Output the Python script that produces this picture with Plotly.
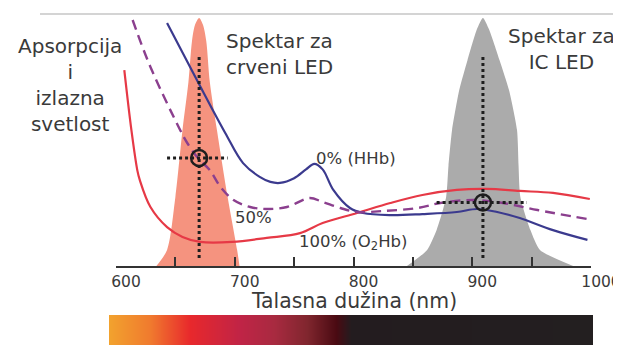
import plotly.graph_objects as go

# ---------------- data ----------------
# 100% saturation (O2Hb) absorption curve
o2hb_wl = [607, 613, 618, 620, 629, 643, 656, 671, 698, 727, 755, 774, 803, 831, 858, 887, 912, 940, 968, 999]
o2hb_val = [78, 54, 38, 34.3, 23.5, 15.5, 11.6, 9.6, 9.6, 11.2, 13.1, 17.1, 21.1, 25.1, 28.3, 30.3, 30.7, 29.9, 29.1, 26.7]

# 0% saturation (HHb) absorption curve
hhb_wl = [643, 669, 692, 707, 721, 730, 738, 750, 760, 767, 774, 783, 797, 808, 831, 858, 887, 904, 921, 940, 968, 997]
hhb_val = [96.8, 73.3, 53, 41, 35.5, 33.5, 33.1, 35.0, 38.5, 40.7, 38.5, 30.3, 23.1, 21.1, 20.3, 20.7, 21.5, 22.7, 21.5, 19.1, 14.3, 10.4]

# 50% saturation curve
half_wl = [614, 629, 654, 660, 669, 679, 688, 699, 713, 727, 744, 763, 774, 789, 803, 825, 854, 873, 901, 926, 955, 997]
half_val = [98, 79.3, 54.2, 49, 43, 38.2, 31.5, 26.3, 23.5, 22.7, 23.5, 27.1, 25.5, 23.1, 21.5, 21.9, 23.1, 25.1, 26.3, 25.1, 22.3, 18.7]

# red LED emission spectrum
red_led_wl = [634, 643, 650, 656, 661, 664, 666.5, 670, 673.3, 676, 679, 685, 694, 702, 704]
red_led_val = [0, 6.4, 27.5, 54.2, 73.3, 89.6, 96, 98.8, 96, 89.6, 73.3, 54.2, 27.5, 6.4, 0]

# infrared LED emission spectrum
ir_led_wl = [845, 862, 870, 878, 880, 883, 889, 896, 904, 909, 914, 923, 931, 937.7, 939, 940.5, 949, 957, 985]
ir_led_val = [0, 6.4, 14.3, 27.5, 40, 54.2, 70, 82, 94.4, 98.8, 94.4, 82, 70, 54.2, 40, 27.5, 14.3, 6.4, 0]

# measuring points (LED centre wavelength, absorption read there)
probe_wl = [670, 909]
probe_val = [43, 25.3]
probe_top = [83.3, 83.3]
probe_bottom = [3, 3]
probe_left = [643, 870]
probe_right = [694, 946]

# x axis ticks
major_ticks = [600, 700, 800, 900, 1000]
major_text = ["600", "700", "800", "900", "1000"]
minor_ticks = [650, 750, 850, 950]

# visible-spectrum bar colour stops
spec_pos = [0, 0.085, 0.167, 0.27, 0.34, 0.41, 0.47, 0.50, 1]
spec_col = ["#f2a22e", "#f07a2e", "#e8282c", "#c02446", "#a82a40", "#80262e", "#4a0a12", "#231c1f", "#231f20"]

FONT = "DejaVu Sans"
TXT = "#3a3a3a"

# the page body has an 8px margin: work in picture pixels and convert
W, H, OFF = 613, 337, 8
def PX(x):
    return (x - OFF) / W
def PY(y):
    return 1 - (y - OFF) / H

fig = go.Figure()

# LED spectra
fig.add_trace(go.Scatter(x=red_led_wl, y=red_led_val, mode="lines", fill="tozeroy",
                         fillcolor="#f5937f", line=dict(width=0, color="#f5937f", shape="spline", smoothing=0.8),
                         hoverinfo="skip", showlegend=False))
fig.add_trace(go.Scatter(x=ir_led_wl, y=ir_led_val, mode="lines", fill="tozeroy",
                         fillcolor="#ababab", line=dict(width=0, color="#ababab", shape="spline", smoothing=0.6),
                         hoverinfo="skip", showlegend=False))

# absorption curves
fig.add_trace(go.Scatter(x=o2hb_wl, y=o2hb_val, mode="lines",
                         line=dict(color="#e63946", width=2.2, shape="spline", smoothing=1),
                         showlegend=False))
fig.add_trace(go.Scatter(x=hhb_wl, y=hhb_val, mode="lines",
                         line=dict(color="#3b3a8e", width=2.2, shape="spline", smoothing=1),
                         showlegend=False))
fig.add_trace(go.Scatter(x=half_wl, y=half_val, mode="lines",
                         line=dict(color="#8b3f8e", width=2.4, dash="10px,6px", shape="spline", smoothing=1),
                         showlegend=False))

# crosshairs
for i in range(len(probe_wl)):
    fig.add_trace(go.Scatter(x=[probe_wl[i], probe_wl[i]], y=[probe_top[i], probe_bottom[i]], mode="lines",
                             line=dict(color="#1e1e1e", width=3, dash="dot"), showlegend=False, hoverinfo="skip"))
    fig.add_trace(go.Scatter(x=[probe_left[i], probe_right[i]], y=[probe_val[i], probe_val[i]], mode="lines",
                             line=dict(color="#1e1e1e", width=3, dash="dot"), showlegend=False, hoverinfo="skip"))
fig.add_trace(go.Scatter(x=probe_wl, y=probe_val, mode="markers",
                         marker=dict(symbol="circle-open", size=16, color="#1e1e1e", line=dict(width=2.5, color="#1e1e1e")),
                         showlegend=False))

# spectrum bar
fig.add_trace(go.Heatmap(x=spec_pos, y=[0], z=[spec_pos], xaxis="x2", yaxis="y2",
                         colorscale=[[p, c] for p, c in zip(spec_pos, spec_col)],
                         zmin=0, zmax=1, zsmooth="best", showscale=False, hoverinfo="skip"))

fig.update_layout(
    width=W, height=H,
    margin=dict(l=0, r=0, t=0, b=0, autoexpand=False),
    paper_bgcolor="white", plot_bgcolor="rgba(0,0,0,0)",
    font=dict(family=FONT, color=TXT),
    xaxis=dict(domain=[PX(116), PX(591)], range=[600, 1000], showgrid=False, zeroline=False,
               showline=True, linecolor="#333333", linewidth=2, automargin=False,
               tickmode="array", tickvals=major_ticks, ticktext=major_text,
               ticks="inside", ticklen=9, tickwidth=2, tickcolor="#333333",
               minor=dict(tickmode="array", tickvals=minor_ticks, ticks="inside", ticklen=9, tickwidth=2,
                          tickcolor="#333333", showgrid=False),
               tickfont=dict(size=15.5, color=TXT, family=FONT),
               ticklabelshift=10, ticklabelstandoff=0, ticklabeloverflow="allow", anchor="y"),
    yaxis=dict(domain=[PY(266), PY(15)], range=[0, 100], visible=False, automargin=False),
    xaxis2=dict(domain=[PX(109), PX(593)], range=[0, 1], visible=False, anchor="y2", automargin=False),
    yaxis2=dict(domain=[0, PY(315)], range=[-0.5, 0.5], visible=False, anchor="x2", automargin=False),
    shapes=[
        dict(type="line", xref="paper", yref="paper", x0=PX(40), x1=1, y0=PY(14), y1=PY(14),
             line=dict(color="#d4d4d4", width=2)),
    ],
    annotations=[
        dict(text="Apsorpcija<br>i<br>izlazna<br>svetlost", xref="paper", yref="paper", x=PX(70), y=PY(85),
             xanchor="center", yanchor="middle", align="center", showarrow=False, font=dict(size=20)),
        dict(text="Spektar za<br>crveni LED", xref="paper", yref="paper", x=PX(224), y=PY(54),
             xanchor="left", yanchor="middle", align="left", showarrow=False, font=dict(size=20)),
        dict(text="Spektar za<br>IC LED", xref="paper", yref="paper", x=PX(561), y=PY(49),
             xanchor="center", yanchor="middle", align="center", showarrow=False, font=dict(size=20)),
        dict(text="0% (HHb)", x=767, y=43, xanchor="left", yanchor="middle", showarrow=False, font=dict(size=16.5)),
        dict(text="50%", x=716, y=19.5, xanchor="center", yanchor="middle", showarrow=False, font=dict(size=16.5)),
        dict(text="100% (O<sub>2</sub>Hb)", x=752, y=9.2, xanchor="left", yanchor="middle", showarrow=False,
             font=dict(size=16.5)),
        dict(text="Talasna dužina (nm)", xref="paper", yref="paper", x=PX(354), y=PY(300.5),
             xanchor="center", yanchor="middle", showarrow=False, font=dict(size=20.4)),
    ],
)

fig.write_html("out.html")
